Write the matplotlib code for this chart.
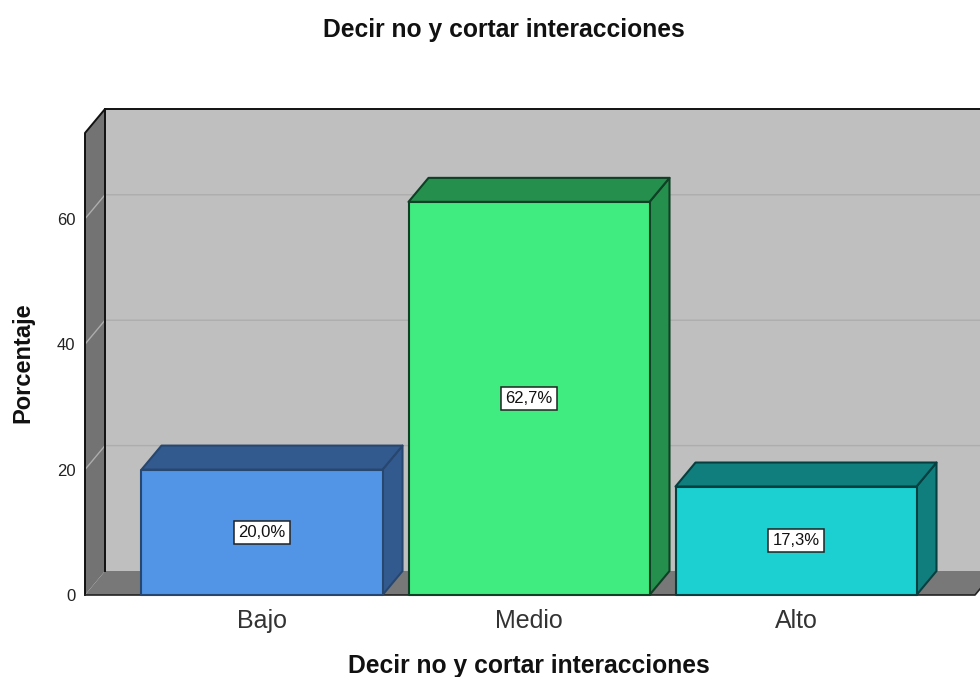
import matplotlib
matplotlib.use('Agg')
import matplotlib.pyplot as plt
from matplotlib.patches import Polygon

plt.rcParams['font.family'] = ['Liberation Sans', 'DejaVu Sans']

categories = ['Bajo', 'Medio', 'Alto']
values = [20.0, 62.7, 17.3]
value_labels = ['20,0%', '62,7%', '17,3%']
y_ticks = [0, 20, 40, 60]

front_colors = ['#5294e6', '#40ec80', '#1ccfd0']
top_colors = ['#335a8f', '#25904e', '#117e7e']
edge_colors = ['#27476f', '#0f3f25', '#063f3f']

W, H = 980, 677
left, bottom, top = 85, 595, 133   # front plane of the plot, in pixels
px_x = 267.0                       # pixels between categories
px_y = 6.27                        # pixels per percent
dx = 20 / px_x                     # depth of the 3d effect in data units
dy = 24 / px_y
bar_w = 241 / px_x
x_min = (left - 262) / px_x
x_max = (W - 262) / px_x
x_end = (975 - 262) / px_x         # the floor stops just before the image edge
y_max = (bottom - top) / px_y

fig = plt.figure(figsize=(W / 100, H / 100), dpi=100)
ax = fig.add_axes([left / W, 1 - bottom / H, (W - left) / W, (bottom - top) / H])
ax.set_xlim(x_min, x_max)
ax.set_ylim(0, y_max)
for s in ax.spines.values():
    s.set_visible(False)


def poly(pts, fc, ec='none', lw=0, z=1):
    ax.add_patch(Polygon(pts, closed=True, facecolor=fc, edgecolor=ec, linewidth=lw,
                         zorder=z, clip_on=False, joinstyle='round'))


# back wall, side wall, floor
poly([(x_min + dx, dy), (x_max + dx, dy), (x_max + dx, y_max + dy), (x_min + dx, y_max + dy)], '#bfbfbf')
poly([(x_min, 0), (x_min + dx, dy), (x_min + dx, y_max + dy), (x_min, y_max)], '#737373')
poly([(x_min, 0), (x_end, 0), (x_end + dx, dy), (x_min + dx, dy)], '#787878')

# grid
for t in y_ticks[1:]:
    ax.plot([x_min, x_min + dx, x_max], [t, t + dy, t + dy], color='#adadad', lw=1.0, zorder=2,
            clip_on=False)

# outline of the walls
ax.plot([x_min, x_min, x_min + dx, x_max], [0, y_max, y_max + dy, y_max + dy], color='#111111',
        lw=1.4, zorder=3, clip_on=False)
ax.plot([x_min + dx, x_min + dx], [dy, y_max + dy], color='#111111', lw=1.4, zorder=3, clip_on=False)
ax.plot([x_min, x_end, x_end + dx], [0, 0, dy], color='#222222', lw=1.2, zorder=3, clip_on=False)

# bars
for i, v in enumerate(values):
    x0 = i - bar_w / 2
    x1 = i + bar_w / 2
    ec = edge_colors[i]
    poly([(x1, 0), (x1 + dx, dy), (x1 + dx, v + dy), (x1, v)], top_colors[i], ec, 1.5, 4)
    poly([(x0, v), (x1, v), (x1 + dx, v + dy), (x0 + dx, v + dy)], top_colors[i], ec, 1.5, 4)
    poly([(x0, 0), (x1, 0), (x1, v), (x0, v)], front_colors[i], ec, 1.5, 5)
    ax.text(i, v / 2, value_labels[i], ha='center', va='center', fontsize=12, color='#111111', zorder=6,
            bbox=dict(boxstyle='square,pad=0.24', facecolor='white', edgecolor='#222222', linewidth=1.1))

ax.set_xticks(range(len(categories)))
ax.set_xticklabels(categories, fontsize=18, color='#333333')
ax.set_yticks(y_ticks)
ax.set_yticklabels([str(t) for t in y_ticks], fontsize=12, color='#222222')
ax.tick_params(length=0)
ax.tick_params(axis='x', pad=10)
ax.tick_params(axis='y', pad=7)

fig.text(504 / W, 1 - 30 / H, 'Decir no y cortar interacciones', ha='center', va='center',
         fontsize=17.7, fontweight='bold', color='#111111')
fig.text(529 / W, 1 - 666 / H, 'Decir no y cortar interacciones', ha='center', va='center',
         fontsize=17.7, fontweight='bold', color='#111111')
fig.text(23 / W, 1 - 363 / H, 'Porcentaje', ha='center', va='center', rotation=90,
         fontsize=17, fontweight='bold', color='#111111')

fig.savefig('out.png', dpi=100)
